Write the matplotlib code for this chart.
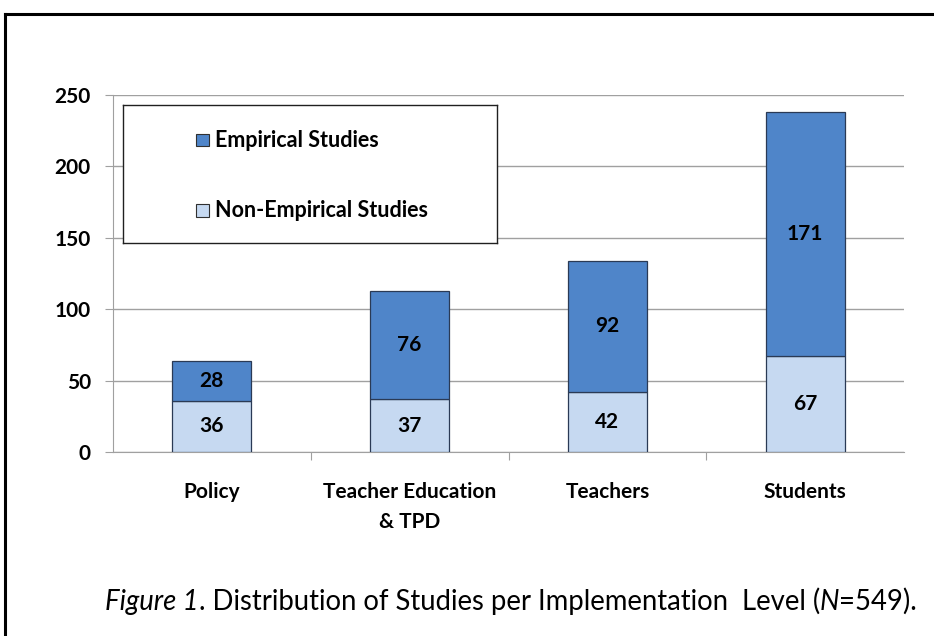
import matplotlib
matplotlib.use("Agg")
import matplotlib.pyplot as plt
from matplotlib.lines import Line2D
from matplotlib.offsetbox import TextArea, HPacker, AnnotationBbox

categories = ["Policy", "Teacher Education\n& TPD", "Teachers", "Students"]
non_empirical = [36, 37, 42, 67]
empirical = [28, 76, 92, 171]
yticks = [0, 50, 100, 150, 200, 250]

W, H = 934, 636
fig = plt.figure(figsize=(W / 100, H / 100), dpi=100)
FONT = "Lato"

def px(x, y):
    return x / W, 1 - y / H

# plot area: x 113..904, y 95..452
x0, y_top = px(113, 95)
x1, y_bot = px(904, 452)
ax = fig.add_axes([x0, y_bot, x1 - x0, y_top - y_bot])

light = "#C6D9F1"
dark = "#4F85C9"
edge = "#2A3A55"
xs = range(len(categories))
ax.bar(xs, non_empirical, width=0.4, color=light, edgecolor=edge, linewidth=0.9, zorder=3)
ax.bar(xs, empirical, width=0.4, bottom=non_empirical, color=dark, edgecolor=edge, linewidth=0.9, zorder=3)

for i in xs:
    ax.text(i, non_empirical[i] / 2, str(non_empirical[i]), ha="center", va="center",
            fontsize=15, fontweight="bold", family=FONT, zorder=4)
    ax.text(i, non_empirical[i] + empirical[i] / 2, str(empirical[i]), ha="center", va="center",
            fontsize=15, fontweight="bold", family=FONT, zorder=4)

ax.set_xlim(-0.5, 3.5)
ax.set_ylim(0, 250)
ax.set_yticks(yticks)
ax.set_yticklabels([str(v) for v in yticks], fontsize=15, fontweight="bold", family=FONT)
ax.yaxis.grid(True, color="#A0A0A0", linewidth=1, zorder=0)
ax.set_axisbelow(True)
for s in ["top", "right"]:
    ax.spines[s].set_visible(False)
ax.spines["left"].set_color("#A0A0A0")
ax.spines["bottom"].set_color("#A0A0A0")
ax.tick_params(axis="y", length=6, color="#A0A0A0", pad=10)
ax.set_xticks([0.5, 1.5, 2.5])
ax.set_xticklabels([])
ax.tick_params(axis="x", length=6, color="#A0A0A0")
for i, c in enumerate(categories):
    ax.text(i, -21, c, ha="center", va="top", fontsize=15, fontweight="bold",
            family=FONT, linespacing=1.6)

# legend box
lx0, ly0 = px(123, 243)
lx1, ly1 = px(497, 105)
lax = fig.add_axes([lx0, ly0, lx1 - lx0, ly1 - ly0])
lax.set_xticks([]); lax.set_yticks([])
lax.set_xlim(0, 1); lax.set_ylim(0, 1)
for s in lax.spines.values():
    s.set_color("#202020"); s.set_linewidth(1)
lax.patch.set_facecolor("white")
for yy, col, lab in [(0.745, dark, "Empirical Studies"), (0.235, light, "Non-Empirical Studies")]:
    lax.add_patch(plt.Rectangle((0.195, yy - 0.045), 0.035, 0.09, facecolor=col,
                                edgecolor="#303030", linewidth=0.8))
    lax.text(0.247, yy, lab, va="center", ha="left", fontsize=15.5, fontweight="bold", family=FONT)

# caption
parts = [("Figure 1", "italic"), (". Distribution of Studies per Implementation  Level (", "normal"),
         ("N", "italic"), ("=549).", "normal")]
boxes = [TextArea(t, textprops=dict(fontsize=19.8, family=FONT, style=st)) for t, st in parts]
pack = HPacker(children=boxes, align="baseline", pad=0, sep=0)
ab = AnnotationBbox(pack, (511 / W, 1 - 601 / H), xycoords="figure fraction", frameon=False,
                    box_alignment=(0.5, 0.5))
fig.add_artist(ab)

# border lines (top and left)
fig.add_artist(Line2D([px(5, 0)[0], 1], [px(0, 14)[1]] * 2, color="black", linewidth=2.2))
fig.add_artist(Line2D([px(5, 0)[0]] * 2, [px(0, 14)[1], 0], color="black", linewidth=2.2))

fig.savefig("out.png", dpi=100)
